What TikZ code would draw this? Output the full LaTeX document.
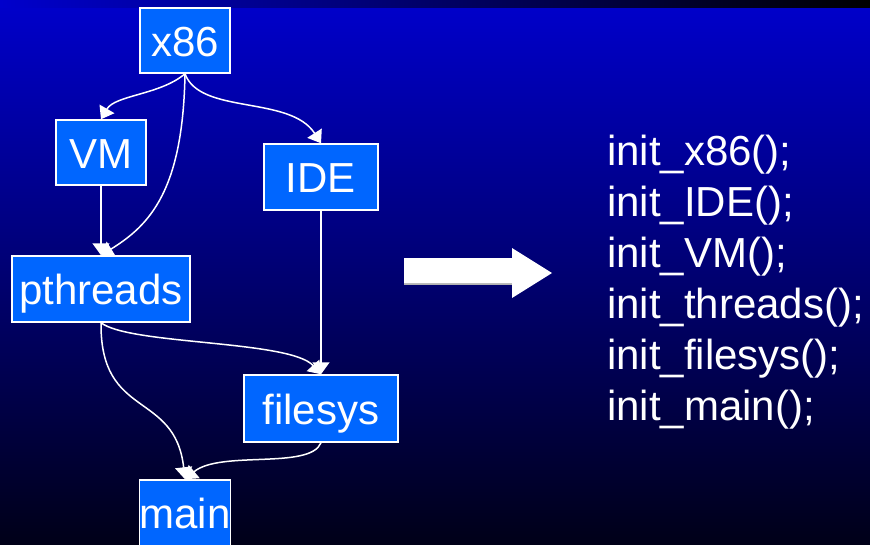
\documentclass[tikz,border=0pt]{standalone}
\usepackage{fontspec}
\setmainfont{Liberation Sans}
\usetikzlibrary{arrows.meta}

\definecolor{bgtop}{RGB}{0,0,204}
\definecolor{bgmid}{RGB}{0,0,130}
\definecolor{bgbot}{RGB}{0,0,24}
\definecolor{boxblue}{RGB}{0,102,255}

\tikzset{
  box/.style={draw=white, line width=1.5pt, fill=boxblue, text=white, inner sep=0pt,
    text height=31pt, text depth=0pt, font=\fontsize{42}{50}\selectfont},
  link/.style={draw=white, line width=1.5pt, -{Triangle[width=17pt,length=12pt]}},
  call/.style={anchor=base west, inner sep=0pt, text=white, font=\fontsize{42}{50}\selectfont}
}

\begin{document}
\begin{tikzpicture}[x=1pt,y=-1pt]

\useasboundingbox (0,0) rectangle (870,544);
\fill[top color=bgtop, middle color=bgmid, bottom color=bgbot] (0,0) rectangle (870,544);
\fill[left color=bgtop, right color=black] (0,0) rectangle (870,7);

\node[box, minimum width=90pt, minimum height=65pt] (x86) at (185,40.5) {x86};
\node[box, minimum width=90pt, minimum height=65pt] (vm) at (101,152.5) {VM};
\node[box, minimum width=114pt, minimum height=66pt] (ide) at (321,177) {IDE};
\node[box, minimum width=178pt, minimum height=66pt] (pthreads) at (101,289) {pthreads};
\node[box, minimum width=154pt, minimum height=67pt] (filesys) at (321,408.5) {filesys};
\node[box, minimum width=90pt, minimum height=66pt] (main) at (185,513) {main};


\draw[link] (x86.south) .. controls (160,95) and (115,95) .. (vm.north);
\draw[link] (x86.south) .. controls (183,190) and (150,225) .. (pthreads.north);
\draw[link] (x86.south) .. controls (200,115) and (290,95) .. (ide.north);

\draw[link] (vm.south) -- (pthreads.north);
\draw[link] (ide.south) -- (filesys.north);

\draw[link] (pthreads.south) .. controls (130,345) and (290,340) .. (filesys.north);
\draw[link] (pthreads.south) .. controls (100,420) and (175,390) .. (main.north);
\draw[link] (filesys.south) .. controls (310,470) and (220,450) .. (main.north);


\fill[gray!60] (404,260) rectangle (512,285);
\fill[white] (404,258) -- (512,258) -- (512,248) -- (552,273) -- (512,298) -- (512,283) -- (404,283) -- cycle;


\node[call] (c1) at (607,165.5) {init\_x86();};
\node[call] (c2) at (607,216.5) {init\_IDE();};
\node[call] (c3) at (607,267.5) {init\_VM();};
\node[call] (c4) at (607,318.5) {init\_threads();};
\node[call] (c5) at (607,369.5) {init\_filesys();};
\node[call] (c6) at (607,420.5) {init\_main();};

\end{tikzpicture}
\end{document}
